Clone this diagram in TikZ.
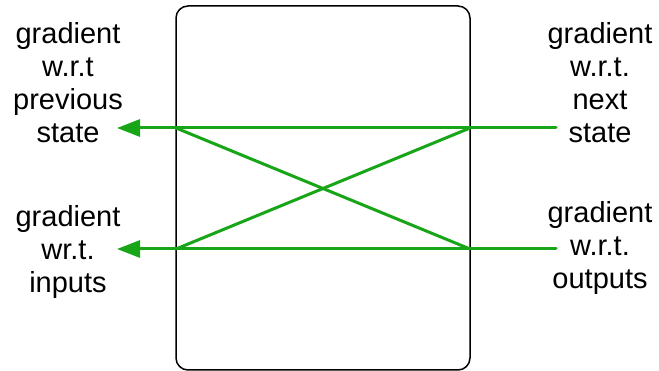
\documentclass[tikz,border=0pt]{standalone}
\usepackage{fontspec}
\setmainfont{Liberation Sans}
\usetikzlibrary{arrows.meta}
\definecolor{gradgreen}{RGB}{24,166,24}

\begin{document}
\begin{tikzpicture}[x=1pt, y=-1pt, line cap=round, line join=round,
  flow/.style={gradgreen, line width=3pt},
  label/.style={align=center, font=\fontsize{29}{33}\selectfont, inner sep=0pt}]

\useasboundingbox (0,0) rectangle (659,371);

% ----------------- Parameters -----------------
\def\xl{176}     % left side of the cell
\def\xr{470}     % right side of the cell
\def\ya{128}     % state line
\def\yb{249}     % input/output line

% Key points
\coordinate (TL)  at (\xl,\ya);
\coordinate (TR)  at (\xr,\ya);
\coordinate (BL)  at (\xl,\yb);
\coordinate (BR)  at (\xr,\yb);
\coordinate (inT) at (556,\ya);
\coordinate (inB) at (556,\yb);
\coordinate (outT) at (117,\ya);
\coordinate (outB) at (117,\yb);

% ----------------- Cell -----------------
\draw[line width=1.5pt, rounded corners=12pt] (\xl,6) rectangle (\xr,370);

% ----------------- Labels -----------------
\node[label] (prev) at (68,83)  {gradient\\w.r.t\\previous\\state};
\node[label] (inp)  at (68,252) {gradient\\wr.t.\\inputs};
\node[label] (next) at (600,83) {gradient\\w.r.t.\\next\\state};
\node[label] (outp) at (600,248) {gradient\\w.r.t.\\outputs};

% ----------------- Gradient flow -----------------
\draw[flow] (inT) -- (TR);
\draw[flow] (inB) -- (BR);
\draw[flow] (TR) -- (BL);
\draw[flow] (TL) -- (BR);
\draw[flow, -{Triangle[length=23pt, width=17pt]}] (TR) -- (outT);
\draw[flow, -{Triangle[length=23pt, width=17pt]}] (BR) -- (outB);

\end{tikzpicture}
\end{document}
